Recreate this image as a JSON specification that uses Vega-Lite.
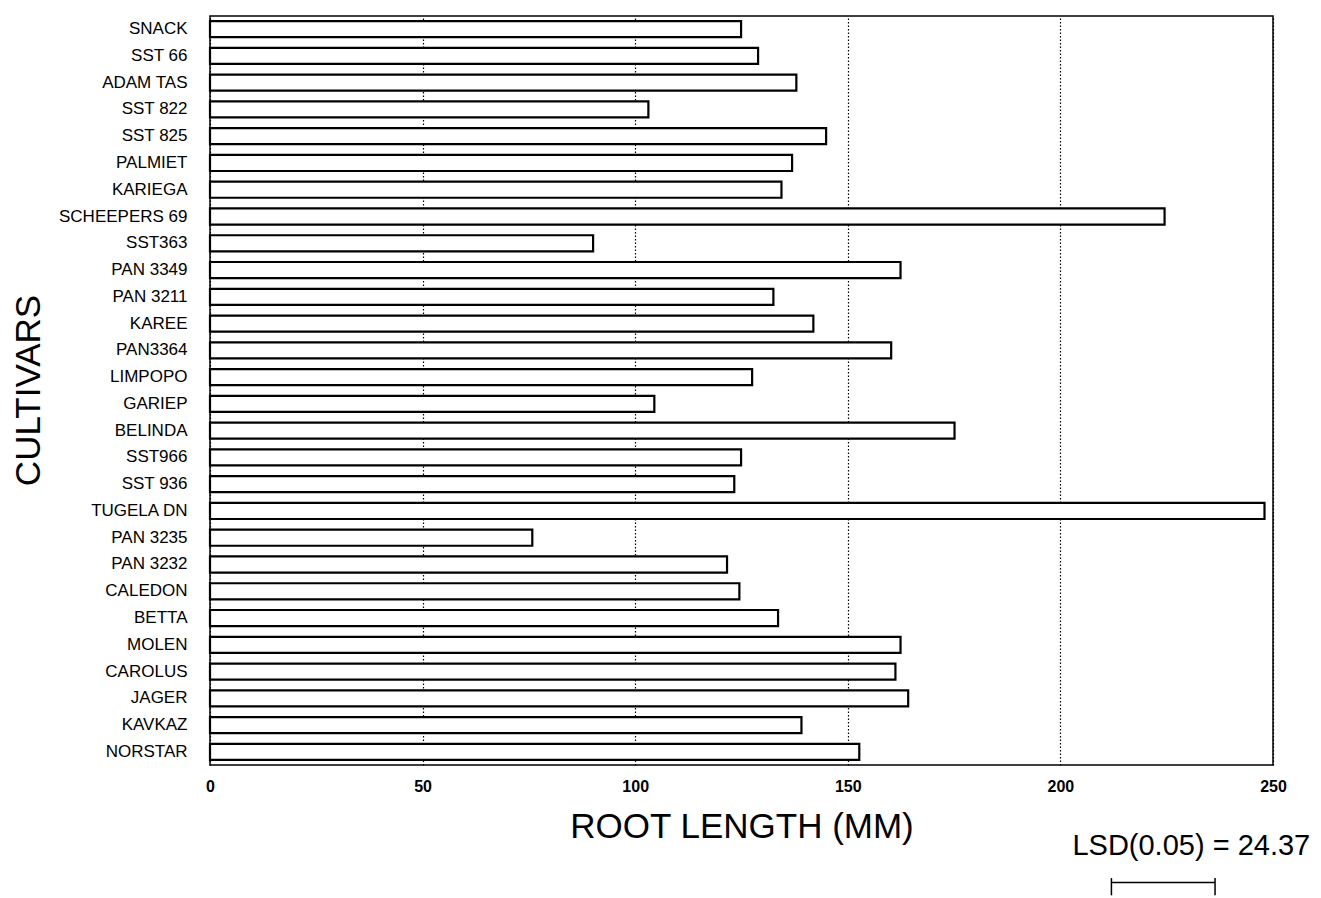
{
  "$schema": "https://vega.github.io/schema/vega-lite/v6.json",
  "width": 1063,
  "height": 749,
  "autosize": {"type": "none"},
  "padding": {"left": 210, "top": 16, "right": 48, "bottom": 133},
  "background": "white",
  "config": {
    "view": {"stroke": "black", "strokeWidth": 1.5},
    "font": "Liberation Sans"
  },
  "datasets": {
    "roots": [
      {"cultivar": "SNACK", "root_length": 124.9},
      {"cultivar": "SST 66", "root_length": 128.9},
      {"cultivar": "ADAM TAS", "root_length": 137.9},
      {"cultivar": "SST 822", "root_length": 103.1},
      {"cultivar": "SST 825", "root_length": 144.9},
      {"cultivar": "PALMIET", "root_length": 136.9},
      {"cultivar": "KARIEGA", "root_length": 134.4},
      {"cultivar": "SCHEEPERS 69", "root_length": 224.5},
      {"cultivar": "SST363", "root_length": 90.1},
      {"cultivar": "PAN 3349", "root_length": 162.4},
      {"cultivar": "PAN 3211", "root_length": 132.5},
      {"cultivar": "KAREE", "root_length": 141.9},
      {"cultivar": "PAN3364", "root_length": 160.2},
      {"cultivar": "LIMPOPO", "root_length": 127.5},
      {"cultivar": "GARIEP", "root_length": 104.5},
      {"cultivar": "BELINDA", "root_length": 175.1},
      {"cultivar": "SST966", "root_length": 124.9},
      {"cultivar": "SST 936", "root_length": 123.3},
      {"cultivar": "TUGELA DN", "root_length": 248.0},
      {"cultivar": "PAN 3235", "root_length": 75.8},
      {"cultivar": "PAN 3232", "root_length": 121.6},
      {"cultivar": "CALEDON", "root_length": 124.5},
      {"cultivar": "BETTA", "root_length": 133.6},
      {"cultivar": "MOLEN", "root_length": 162.4},
      {"cultivar": "CAROLUS", "root_length": 161.2},
      {"cultivar": "JAGER", "root_length": 164.2},
      {"cultivar": "KAVKAZ", "root_length": 139.1},
      {"cultivar": "NORSTAR", "root_length": 152.7}
    ],
    "lsd": [
      {"label": "LSD(0.05) = 24.37", "from": 212, "to": 236.37}
    ]
  },
  "layer": [
    {
      "data": {"name": "roots"},
      "mark": {"type": "bar", "fill": "white", "stroke": "black", "strokeWidth": 2.2},
      "encoding": {
        "y": {
          "field": "cultivar",
          "type": "nominal",
          "sort": null,
          "scale": {"paddingInner": 0.4, "paddingOuter": 0.19},
          "axis": {
            "title": "CULTIVARS",
            "domain": false,
            "ticks": false,
            "labelPadding": 23,
            "labelFontSize": 17,
            "labelColor": "black",
            "titleFontSize": 35,
            "titleFontWeight": "normal",
            "titleColor": "black",
            "titleX": -182,
            "titleY": 374,
            "titleAngle": -90,
            "titleAlign": "center",
            "titleBaseline": "middle"
          }
        },
        "x": {
          "field": "root_length",
          "type": "quantitative",
          "scale": {"domain": [0, 250], "nice": false},
          "axis": {
            "title": "ROOT LENGTH (MM)",
            "values": [0, 50, 100, 150, 200, 250],
            "domain": false,
            "ticks": false,
            "grid": true,
            "gridColor": "black",
            "gridDash": [1.5, 2],
            "gridWidth": 1.2,
            "gridOpacity": 1,
            "labelFlush": false,
            "labelPadding": 13,
            "labelFontSize": 16,
            "labelFontWeight": "bold",
            "labelColor": "black",
            "titleFontSize": 35,
            "titleFontWeight": "normal",
            "titleColor": "black",
            "titleY": 72,
            "titleBaseline": "alphabetic"
          }
        }
      }
    },
    {
      "data": {"name": "lsd"},
      "mark": {"type": "text", "fontSize": 29, "align": "left", "baseline": "middle", "dx": -39, "color": "black"},
      "encoding": {
        "x": {"field": "from", "type": "quantitative"},
        "y": {"datum": -0.108, "type": "quantitative", "scale": {"domain": [0, 1], "nice": false, "zero": false}, "axis": null},
        "text": {"field": "label"}
      }
    },
    {
      "data": {"name": "lsd"},
      "mark": {"type": "rule", "color": "black", "strokeWidth": 1.5},
      "encoding": {
        "x": {"field": "from", "type": "quantitative"},
        "x2": {"field": "to"},
        "y": {"datum": -0.157, "type": "quantitative", "scale": {"domain": [0, 1], "nice": false, "zero": false}, "axis": null}
      }
    },
    {
      "data": {"name": "lsd"},
      "mark": {"type": "rule", "color": "black", "strokeWidth": 1.5},
      "encoding": {
        "x": {"field": "from", "type": "quantitative"},
        "y": {"datum": -0.151, "type": "quantitative", "scale": {"domain": [0, 1], "nice": false, "zero": false}, "axis": null},
        "y2": {"datum": -0.174}
      }
    },
    {
      "data": {"name": "lsd"},
      "mark": {"type": "rule", "color": "black", "strokeWidth": 1.5},
      "encoding": {
        "x": {"field": "to", "type": "quantitative"},
        "y": {"datum": -0.151, "type": "quantitative", "scale": {"domain": [0, 1], "nice": false, "zero": false}, "axis": null},
        "y2": {"datum": -0.174}
      }
    }
  ],
  "resolve": {"scale": {"y": "independent"}, "axis": {"y": "independent"}}
}
